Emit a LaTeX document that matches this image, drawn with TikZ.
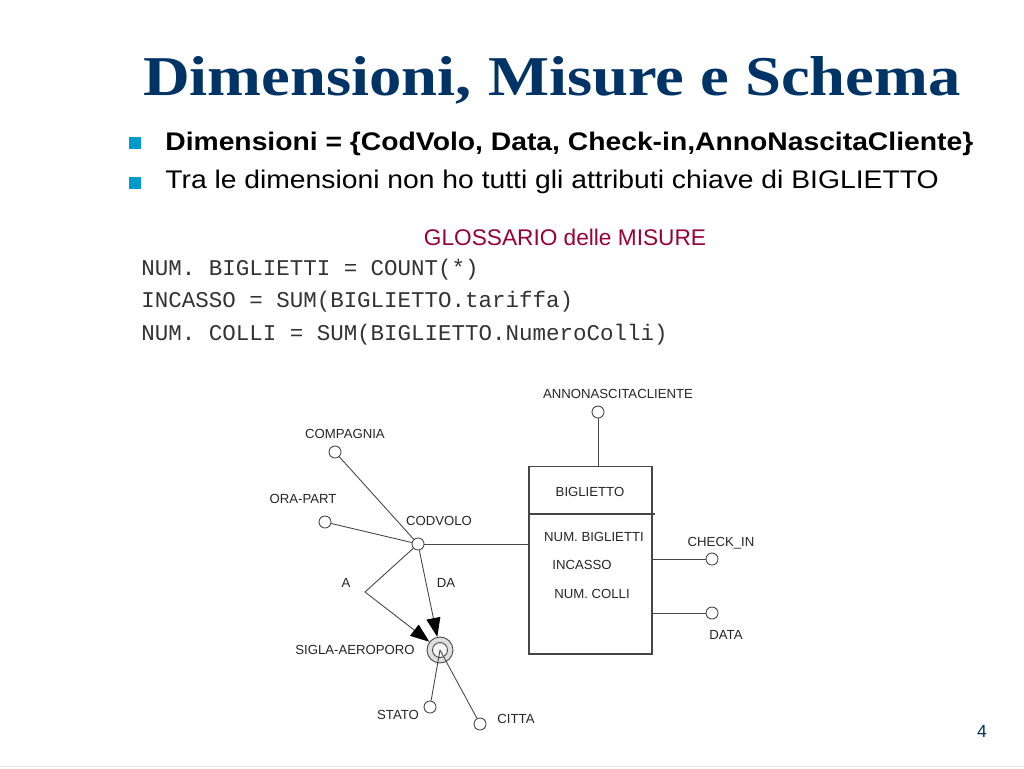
\documentclass[tikz,border=0pt]{standalone}
\usepackage{fontspec}
\setmainfont{Liberation Sans}
\setmonofont{Liberation Mono}
\newfontfamily\titlefont{Liberation Serif}
\definecolor{slnavy}{RGB}{0,51,102}
\definecolor{slcyan}{RGB}{0,153,204}
\definecolor{slred}{RGB}{153,0,51}
\definecolor{slgray}{RGB}{70,70,70}
\usetikzlibrary{arrows.meta,positioning}

\begin{document}
\begin{tikzpicture}[x=0.02cm,y=-0.02cm,
  attr/.style={circle,draw=slgray,fill=white,line width=0.5pt,inner sep=0pt,minimum size=0.24cm},
  lbl/.style={font=\fontsize{7.5}{8}\selectfont,text=black!85,inner sep=0pt},
  link/.style={slgray,line width=0.5pt},
  fkey/.style={link,-{Triangle[length=0.38cm,width=0.28cm,color=black]}},
  bullet/.style={fill=slcyan,minimum size=0.23cm,inner sep=0pt},
  code/.style={font=\ttfamily\fontsize{12.8}{14}\selectfont,text=black!80,anchor=west,inner sep=0pt}]
  \useasboundingbox[fill=white] (0,0) rectangle (1024,768);
  % Title
  \node[font=\titlefont\bfseries\fontsize{32}{36}\selectfont,text=slnavy,anchor=base,inner sep=0pt] (title) at (552,95)
    {\scalebox{1.15}[1]{Dimensioni, Misure e Schema}};
  % Bullets
  \node[bullet] (b1) at (135,143) {};
  \node[bullet] (b2) at (135,183) {};
  \node[font=\bfseries\fontsize{14.5}{16}\selectfont,anchor=base west,inner sep=0pt] (t1) at (165,150)
    {\scalebox{1.11}[1]{Dimensioni = \{CodVolo, Data, Check-in,AnnoNascitaCliente\}}};
  \node[font=\fontsize{14.5}{16}\selectfont,anchor=base west,inner sep=0pt] (t2) at (165,188)
    {\scalebox{1.11}[1]{Tra le dimensioni non ho tutti gli attributi chiave di BIGLIETTO}};
  % Glossary
  \node[font=\fontsize{12.9}{14}\selectfont,text=slred,inner sep=0pt] (gloss) at (565,237) {GLOSSARIO delle MISURE};
  \foreach \y/\t in {270/{NUM. BIGLIETTI = COUNT(*)},302/{INCASSO = SUM(BIGLIETTO.tariffa)},335/{NUM. COLLI = SUM(BIGLIETTO.NumeroColli)}}
    \node[code] at (141,\y) {\t};
  % Fact
  \node[draw=slgray,line width=0.6pt,minimum width=2.46cm,minimum height=3.76cm,inner sep=0pt] (fact) at (590.5,560) {};
  \draw[slgray,line width=0.6pt] (529,514) -- (655,514);
  \node[lbl] (factname) at (590,492) {BIGLIETTO};
  \node[lbl] (m1) at (594,537) {NUM. BIGLIETTI};
  \node[lbl] (m2) at (582,565) {INCASSO};
  \node[lbl] (m3) at (592,594) {NUM. COLLI};
  % Dimensions
  \node[attr] (anno) at (598,412) {};
  \node[lbl] at (618,394) {ANNONASCITACLIENTE};
  \node[attr] (checkin) at (712,559) {};
  \node[lbl] at (721,543) {CHECK\_IN};
  \node[attr] (data) at (712,613) {};
  \node[lbl] at (726,635) {DATA};
  \node[attr] (codvolo) at (418,544) {};
  \node[lbl] at (439,521) {CODVOLO};
  \node[attr] (compagnia) at (335,452) {};
  \node[lbl] at (345,434) {COMPAGNIA};
  \node[attr] (orapart) at (325,522) {};
  \node[lbl] at (303,499) {ORA-PART};
  \node[circle,draw=slgray,fill=gray!25,line width=0.5pt,inner sep=0pt,minimum size=0.52cm] (sigla) at (440,650) {};
  \node[circle,draw=slgray,fill=gray!8,line width=0.5pt,inner sep=0pt,minimum size=0.3cm] at (sigla) {};
  \node[lbl] at (355,650) {SIGLA-AEROPORO};
  \node[attr] (stato) at (430,707) {};
  \node[lbl] at (398,715) {STATO};
  \node[attr] (citta) at (480,724) {};
  \node[lbl] at (516,719) {CITTA};
  \coordinate (bend) at (365,592);
  % Edges
  \draw[link] (anno) -- (anno |- fact.north);
  \draw[link] (codvolo) -- (codvolo -| fact.west);
  \draw[link] (checkin -| fact.east) -- (checkin);
  \draw[link] (data -| fact.east) -- (data);
  \draw[link] (compagnia) -- (codvolo);
  \draw[link] (orapart) -- (codvolo);
  \draw[fkey] (codvolo) -- (bend) -- (sigla);
  \draw[fkey] (codvolo) -- (sigla);
  \node[lbl] at (346,583) {A};
  \node[lbl] at (446,583) {DA};
  \draw[link] (sigla.center) -- (stato);
  \draw[link] (sigla.center) -- (citta);
  % Page number
  \node[font=\fontsize{10}{12}\selectfont,text=slnavy] (page) at (982,731) {4};
  \draw[gray!20] (0,766) -- (1024,766);
\end{tikzpicture}
\end{document}
